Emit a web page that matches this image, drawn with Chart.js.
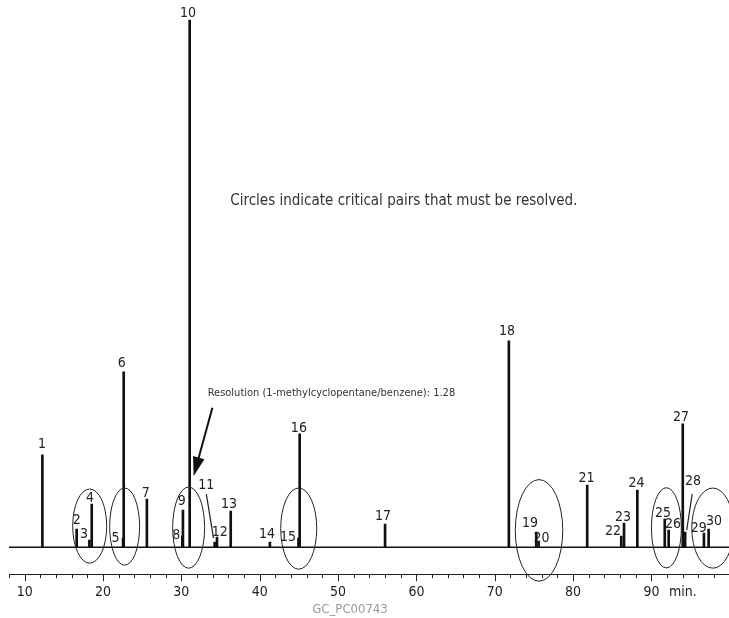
<!DOCTYPE html>
<html>
<head>
<meta charset="utf-8">
<script src="https://cdn.jsdelivr.net/npm/chart.js@4/dist/chart.umd.min.js"></script>
<style>
  html, body { margin: 0; padding: 0; background: #fff; }
  #wrap { width: 729px; height: 618px; }
</style>
</head>
<body>
<div id="wrap"><canvas id="gc-chart"></canvas></div>
<script>
// retention times (min) and peak heights (arbitrary units)
const peakTimes = [12.26, 16.64, 18.26, 18.56, 22.56, 22.64, 25.6, 30.13, 30.2, 31.06,
  34.25, 34.55, 36.3, 41.3, 44.95, 45.1, 56.0, 71.8, 75.3, 75.6,
  81.8, 86.15, 86.5, 88.2, 91.7, 92.2, 94.0, 94.3, 96.7, 97.3];
const peakHeights = [92, 18, 7, 43, 9, 175, 48, 11, 37, 526,
  5, 10, 36, 5, 9, 113, 23, 206, 15, 5,
  62, 11, 24, 57, 28, 17, 123, 15, 14, 18];

// peak number labels: [text, time, height]
const peakLabels = [
  ['1', 12.2, 103], ['2', 16.64, 27], ['3', 17.57, 13], ['4', 18.34, 49], ['5', 21.58, 9],
  ['6', 22.38, 183], ['7', 25.45, 54], ['8', 29.36, 12], ['9', 30.04, 46], ['10', 30.85, 533],
  ['11', 33.19, 62], ['12', 34.9, 15], ['13', 36.08, 43], ['14', 40.93, 13], ['15', 43.61, 10],
  ['16', 45.0, 119], ['17', 55.74, 31], ['18', 71.56, 215], ['19', 74.49, 24], ['20', 75.96, 9],
  ['21', 81.7, 69], ['22', 85.1, 16], ['23', 86.37, 30], ['24', 88.08, 64], ['25', 91.48, 34],
  ['26', 92.76, 23], ['27', 93.78, 130], ['28', 95.31, 66], ['29', 96.03, 19], ['30', 97.99, 26],
];

// leader lines: [t1, v1, t2, v2]
const leaders = [
  [33.19, 53, 34.1, 9],
  [95.2, 53, 94.5, 17],
];

// critical pair circles: [centre time, half width (min), centre height, half height]
const pairCircles = [
  [18.30, 2.17, 21, 37],
  [22.76, 1.91, 20.5, 38.5],
  [30.93, 2.04, 19.5, 40.5],
  [44.98, 2.30, 18.5, 40.5],
  [75.65, 3.03, 16.7, 50.7],
  [91.91, 1.91, 19.3, 40],
  [97.83, 2.68, 19, 40],
];

const xMin = 8;
const xMax = 99.9;
const xMajorTicks = [10, 20, 30, 40, 50, 60, 70, 80, 90];

const FONT = '"DejaVu Sans Condensed", "Liberation Sans Narrow", "Open Sans", sans-serif';

const annotate = {
  id: 'annotate',
  afterDatasetsDraw(chart) {
    const { ctx, scales: { x, y } } = chart;
    ctx.save();

    // circles
    ctx.strokeStyle = '#222';
    ctx.lineWidth = 1;
    pairCircles.forEach(([t, dt, v, dv]) => {
      const cx = x.getPixelForValue(t);
      const rx = x.getPixelForValue(t + dt) - cx;
      const cy = y.getPixelForValue(v);
      const ry = cy - y.getPixelForValue(v + dv);
      ctx.beginPath();
      ctx.ellipse(cx, cy, rx, ry, 0, 0, Math.PI * 2);
      ctx.stroke();
    });

    // leader lines
    ctx.lineWidth = 1.2;
    leaders.forEach(([t1, v1, t2, v2]) => {
      ctx.beginPath();
      ctx.moveTo(x.getPixelForValue(t1), y.getPixelForValue(v1));
      ctx.lineTo(x.getPixelForValue(t2), y.getPixelForValue(v2));
      ctx.stroke();
    });

    // peak numbers
    ctx.fillStyle = '#222';
    ctx.font = `14px ${FONT}`;
    ctx.textAlign = 'center';
    ctx.textBaseline = 'middle';
    peakLabels.forEach(([txt, t, v]) => {
      ctx.fillText(txt, x.getPixelForValue(t), y.getPixelForValue(v));
    });

    // resolution arrow
    const ax1 = x.getPixelForValue(33.96), ay1 = y.getPixelForValue(139);
    const ax2 = x.getPixelForValue(31.57), ay2 = y.getPixelForValue(71);
    const ang = Math.atan2(ay2 - ay1, ax2 - ax1);
    ctx.strokeStyle = '#111';
    ctx.lineWidth = 2;
    ctx.beginPath();
    ctx.moveTo(ax1, ay1);
    ctx.lineTo(ax2 - 12 * Math.cos(ang), ay2 - 12 * Math.sin(ang));
    ctx.stroke();
    ctx.fillStyle = '#111';
    ctx.beginPath();
    ctx.moveTo(ax2, ay2);
    ctx.lineTo(ax2 - 20 * Math.cos(ang - 0.3), ay2 - 20 * Math.sin(ang - 0.3));
    ctx.lineTo(ax2 - 20 * Math.cos(ang + 0.3), ay2 - 20 * Math.sin(ang + 0.3));
    ctx.closePath();
    ctx.fill();

    ctx.fillStyle = '#333';
    ctx.textAlign = 'left';
    ctx.font = `11px ${FONT}`;
    ctx.fillText('Resolution (1-methylcyclopentane/benzene): 1.28', x.getPixelForValue(33.36), y.getPixelForValue(154));

    ctx.textAlign = 'center';
    ctx.font = `15px ${FONT}`;
    ctx.fillText('Circles indicate critical pairs that must be resolved.', x.getPixelForValue(58.4), y.getPixelForValue(345));

    // minor ticks on the time axis
    ctx.strokeStyle = '#222';
    ctx.lineWidth = 1;
    for (let t = xMin; t <= xMax; t += 2) {
      const px = Math.round(x.getPixelForValue(t)) + 0.5;
      const len = xMajorTicks.includes(t) ? 7 : 4;
      ctx.beginPath();
      ctx.moveTo(px, x.top);
      ctx.lineTo(px, x.top + len);
      ctx.stroke();
    }

    ctx.fillStyle = '#999';
    ctx.font = `13px ${FONT}`;
    ctx.fillText('GC_PC00743', 350, 610);
    ctx.restore();
  },
};

const init = () => {
  const ctx = document.getElementById('gc-chart');
  new Chart(ctx, {
    data: {
      datasets: [
        {
          type: 'line',
          data: [{ x: xMin, y: 0 }, { x: xMax, y: 0 }],
          borderColor: '#111',
          borderWidth: 1.5,
          pointRadius: 0,
        },
        {
          type: 'bar',
          data: peakTimes.map((t, i) => ({ x: t, y: peakHeights[i] })),
          backgroundColor: '#111',
          barThickness: 2,
        },
      ],
    },
    options: {
      responsive: true,
      maintainAspectRatio: false,
      animation: false,
      layout: { padding: { left: 9, right: 0, top: 0, bottom: 7 } },
      plugins: { legend: { display: false }, tooltip: { enabled: false } },
      scales: {
        x: {
          type: 'linear',
          offset: false,
          min: xMin,
          max: xMax,
          border: { display: true, color: '#222', width: 1 },
          grid: { display: false, drawTicks: false, offset: false },
          afterBuildTicks: (axis) => {
            axis.ticks = [...xMajorTicks, 94].map((v) => ({ value: v }));
          },
          ticks: {
            autoSkip: false,
            maxRotation: 0,
            padding: 10,
            color: '#222',
            font: { family: FONT, size: 14 },
            callback: (v) => (v === 94 ? 'min.' : String(v)),
          },
        },
        y: {
          display: false,
          min: -27,
          max: 546,
        },
      },
    },
    plugins: [annotate],
  });
};

document.addEventListener('DOMContentLoaded', init);
</script>
</body>
</html>
